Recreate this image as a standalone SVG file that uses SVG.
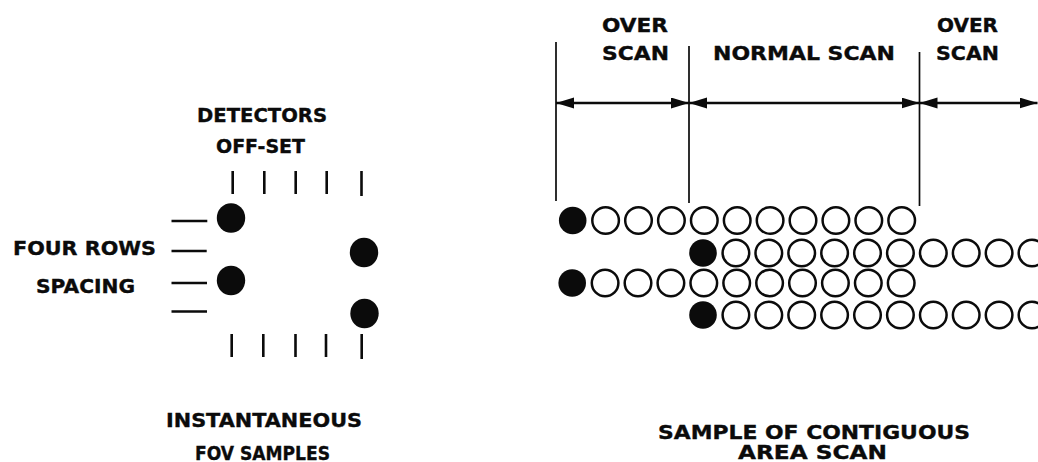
<svg xmlns="http://www.w3.org/2000/svg" width="1038" height="462" viewBox="0 0 1038 462">
<defs>
<style>
.lbl{font-family:"DejaVu Sans","Liberation Sans",sans-serif;font-weight:bold;font-size:19px;fill:#0b0b0b;stroke:#0b0b0b;stroke-width:0.35}
.tick{stroke:#0b0b0b;stroke-width:2.6;fill:none}
.dot{fill:#0b0b0b}
.open{fill:none;stroke:#0b0b0b;stroke-width:2.5}
.dim{stroke:#0b0b0b;stroke-width:2.6;fill:none;marker-start:url(#arr);marker-end:url(#arr)}
.ext{stroke:#0b0b0b;stroke-width:1.7;fill:none}
</style>
<marker id="arr" markerUnits="userSpaceOnUse" markerWidth="20" markerHeight="12" refX="18" refY="5.5" orient="auto-start-reverse"><path d="M0,0 L18,5.5 L0,11 z" fill="#0b0b0b"/></marker>
<circle id="o" r="13.3" class="open"/>
</defs>
<rect width="1038" height="462" fill="#ffffff"/>

<!-- Left: instantaneous FOV samples -->
<g id="label-detectors-offset">
<text class="lbl" x="197" y="121.7" textLength="130" lengthAdjust="spacingAndGlyphs">DETECTORS</text>
<text class="lbl" x="216" y="153.3" textLength="89" lengthAdjust="spacingAndGlyphs">OFF-SET</text>
</g>
<g id="label-four-rows-spacing">
<text class="lbl" x="13" y="255" textLength="143" lengthAdjust="spacingAndGlyphs">FOUR ROWS</text>
<text class="lbl" x="36" y="292.7" textLength="99" lengthAdjust="spacingAndGlyphs">SPACING</text>
</g>
<g id="label-instantaneous">
<text class="lbl" x="166" y="426.7" textLength="196" lengthAdjust="spacingAndGlyphs">INSTANTANEOUS</text>
<text class="lbl" x="195" y="460" textLength="135" lengthAdjust="spacingAndGlyphs">FOV SAMPLES</text>
</g>
<g id="ticks-top">
<path class="tick" d="M232.7,171 V194 M264.3,171 V194 M295.7,171 V194 M326.7,171 V194 M361.5,171 V196"/>
</g>
<g id="ticks-bottom">
<path class="tick" d="M231.7,334 V357 M263.3,334 V357 M295.5,334 V357 M326,334 V357 M361.7,334 V359"/>
</g>
<g id="row-marks">
<path class="tick" d="M171.5,221 H207.3 M171.5,251 H206.7 M171.5,283 H207 M171.5,311.5 H207"/>
</g>
<g id="det-1"><ellipse class="dot" cx="231" cy="218" rx="14.2" ry="14.7"/></g>
<g id="det-2"><ellipse class="dot" cx="364" cy="252.5" rx="14.2" ry="14.7"/></g>
<g id="det-3"><ellipse class="dot" cx="231" cy="280.5" rx="14.2" ry="14.7"/></g>
<g id="det-4"><ellipse class="dot" cx="364.5" cy="313.5" rx="14.2" ry="14.7"/></g>

<!-- Right: contiguous area scan -->
<g id="label-over-scan-left">
<text class="lbl" x="602" y="31.7" textLength="66" lengthAdjust="spacingAndGlyphs">OVER</text>
<text class="lbl" x="602" y="60" textLength="67" lengthAdjust="spacingAndGlyphs">SCAN</text>
</g>
<g id="label-normal-scan">
<text class="lbl" x="713" y="60" textLength="182" lengthAdjust="spacingAndGlyphs">NORMAL SCAN</text>
</g>
<g id="label-over-scan-right">
<text class="lbl" x="937" y="31.7" textLength="61" lengthAdjust="spacingAndGlyphs">OVER</text>
<text class="lbl" x="936" y="60" textLength="63" lengthAdjust="spacingAndGlyphs">SCAN</text>
</g>
<g id="label-sample">
<text class="lbl" x="658" y="438.5" textLength="312" lengthAdjust="spacingAndGlyphs">SAMPLE OF CONTIGUOUS</text>
<text class="lbl" x="738" y="459" textLength="149" lengthAdjust="spacingAndGlyphs">AREA SCAN</text>
</g>
<g id="scan-boundaries">
<path class="ext" d="M556,42 V201 M689,46 V203 M919.5,52 V206"/>
</g>

<g id="grid-row-1">
<circle class="dot" cx="572.7" cy="220.5" r="13.8"/>
<use href="#o" x="605.6" y="220.5"/><use href="#o" x="638.5" y="220.5"/><use href="#o" x="671.4" y="220.5"/><use href="#o" x="704.3" y="220.5"/><use href="#o" x="737.2" y="220.5"/><use href="#o" x="770.1" y="220.5"/><use href="#o" x="803" y="220.5"/><use href="#o" x="835.9" y="220.5"/><use href="#o" x="868.8" y="220.5"/><use href="#o" x="901.7" y="220.5"/>
</g>
<g id="grid-row-2">
<circle class="dot" cx="703" cy="253" r="13.8"/>
<use href="#o" x="735.9" y="253"/><use href="#o" x="768.8" y="253"/><use href="#o" x="801.7" y="253"/><use href="#o" x="834.6" y="253"/><use href="#o" x="867.5" y="253"/><use href="#o" x="900.4" y="253"/><use href="#o" x="933.3" y="253"/><use href="#o" x="966.2" y="253"/><use href="#o" x="999.1" y="253"/><use href="#o" x="1032" y="253"/>
</g>
<g id="grid-row-3">
<circle class="dot" cx="572.2" cy="283" r="13.8"/>
<use href="#o" x="605.1" y="283"/><use href="#o" x="638" y="283"/><use href="#o" x="670.9" y="283"/><use href="#o" x="703.8" y="283"/><use href="#o" x="736.7" y="283"/><use href="#o" x="769.6" y="283"/><use href="#o" x="802.5" y="283"/><use href="#o" x="835.4" y="283"/><use href="#o" x="868.3" y="283"/><use href="#o" x="901.2" y="283"/>
</g>
<g id="grid-row-4">
<circle class="dot" cx="703" cy="315" r="13.8"/>
<use href="#o" x="735.9" y="315"/><use href="#o" x="768.8" y="315"/><use href="#o" x="801.7" y="315"/><use href="#o" x="834.6" y="315"/><use href="#o" x="867.5" y="315"/><use href="#o" x="900.4" y="315"/><use href="#o" x="933.3" y="315"/><use href="#o" x="966.2" y="315"/><use href="#o" x="999.1" y="315"/><use href="#o" x="1032" y="315"/>
</g>

<g id="connectors">
<line class="dim" x1="556" y1="103" x2="689" y2="103"/>
<line class="dim" x1="689" y1="103" x2="919.5" y2="103"/>
<line class="dim" x1="919.5" y1="103" x2="1037.5" y2="103"/>
</g>
</svg>
